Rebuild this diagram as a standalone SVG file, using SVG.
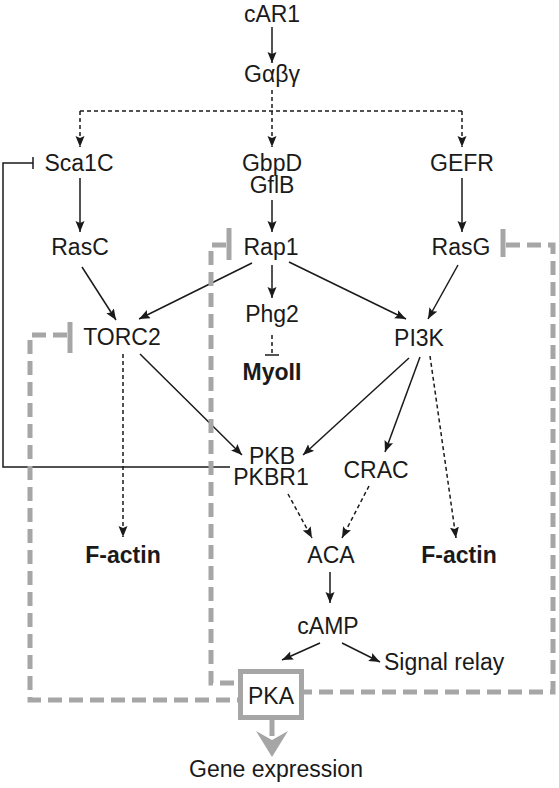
<svg xmlns="http://www.w3.org/2000/svg" width="559" height="788" viewBox="0 0 559 788">
<defs>
<style>
text{font-family:"Liberation Sans",Arial,sans-serif;font-size:23px;fill:#1a1a1a;text-anchor:middle}
.b{font-weight:bold}
.s{stroke:#1a1a1a;stroke-width:1.5;fill:none}
.d{stroke:#1a1a1a;stroke-width:1.5;fill:none;stroke-dasharray:4 3}
.g{stroke:#a6a6a6;stroke-width:5;fill:none;stroke-dasharray:14 7}
.gb{stroke:#a6a6a6;stroke-width:5;fill:none}
</style>
<marker id="ah" markerUnits="userSpaceOnUse" markerWidth="12" markerHeight="10" refX="11" refY="4.5" orient="auto">
<path d="M0,0 L11,4.5 L0,9 L2,4.5 z" fill="#1a1a1a"/>
</marker>
</defs>
<rect width="559" height="788" fill="#ffffff"/>

<g id="connectors">
<line class="s" x1="272" y1="27" x2="272" y2="63" marker-end="url(#ah)"/>
<line class="d" x1="272" y1="90" x2="272" y2="111"/>
<line class="d" x1="80" y1="111" x2="462" y2="111"/>
<line class="d" x1="80" y1="111" x2="80" y2="147" marker-end="url(#ah)"/>
<line class="d" x1="272" y1="111" x2="272" y2="147" marker-end="url(#ah)"/>
<line class="d" x1="462" y1="111" x2="462" y2="147" marker-end="url(#ah)"/>
<line class="s" x1="80" y1="178" x2="80" y2="232" marker-end="url(#ah)"/>
<line class="s" x1="272" y1="200" x2="272" y2="232" marker-end="url(#ah)"/>
<line class="s" x1="462" y1="178" x2="462" y2="232" marker-end="url(#ah)"/>
<line class="s" x1="82" y1="267" x2="116" y2="320" marker-end="url(#ah)"/>
<line class="s" x1="252" y1="263" x2="139" y2="319" marker-end="url(#ah)"/>
<line class="s" x1="272" y1="265" x2="272" y2="298" marker-end="url(#ah)"/>
<line class="s" x1="289" y1="262" x2="406" y2="319" marker-end="url(#ah)"/>
<line class="s" x1="458" y1="265" x2="428" y2="319" marker-end="url(#ah)"/>
<line class="d" x1="272" y1="335" x2="272" y2="355"/>
<line class="s" x1="265" y1="355" x2="279" y2="355"/>
<line class="d" x1="123" y1="354" x2="123" y2="537" marker-end="url(#ah)"/>
<line class="s" x1="140" y1="354" x2="242" y2="455" marker-end="url(#ah)"/>
<line class="s" x1="409" y1="358" x2="303" y2="455" marker-end="url(#ah)"/>
<line class="s" x1="420" y1="357" x2="385" y2="452" marker-end="url(#ah)"/>
<line class="d" x1="430" y1="356" x2="456" y2="538" marker-end="url(#ah)"/>
<line class="d" x1="288" y1="494" x2="312" y2="538" marker-end="url(#ah)"/>
<line class="d" x1="369" y1="486" x2="342" y2="538" marker-end="url(#ah)"/>
<line class="s" x1="330" y1="572" x2="330" y2="603" marker-end="url(#ah)"/>
<line class="s" x1="320" y1="643" x2="282" y2="660" marker-end="url(#ah)"/>
<line class="s" x1="342" y1="643" x2="380" y2="662" marker-end="url(#ah)"/>
<polyline class="s" points="230,467 3,467 3,163 33,163"/>
<line class="s" x1="33" y1="157" x2="33" y2="169"/>
<path class="g" d="M226,245 H211 V683 H238"/>
<line class="gb" x1="229" y1="228" x2="229" y2="260"/>
<path class="g" d="M506,245 H553 V692 H304"/>
<line class="gb" x1="503" y1="229" x2="503" y2="257"/>
<path class="g" d="M67,335 H30 V700 H238"/>
<line class="gb" x1="70" y1="322" x2="70" y2="353"/>
<line class="gb" x1="272" y1="720" x2="272" y2="736"/>
<polygon points="256,731 272,740 288,731 272,757" fill="#a6a6a6"/>
</g>

<g id="cAR1"><text x="272" y="22">cAR1</text></g>
<g id="Gabg"><text x="272" y="82">Gαβγ</text></g>
<g id="Sca1C"><text x="79" y="171">Sca1C</text></g>
<g id="GbpD"><text x="272" y="171">GbpD</text><text x="272" y="193">GflB</text></g>
<g id="GEFR"><text x="462" y="171">GEFR</text></g>
<g id="RasC"><text x="80" y="255">RasC</text></g>
<g id="Rap1"><text x="271" y="255">Rap1</text></g>
<g id="RasG"><text x="461" y="255">RasG</text></g>
<g id="TORC2"><text x="122" y="345">TORC2</text></g>
<g id="Phg2"><text x="272" y="322">Phg2</text></g>
<g id="PI3K"><text x="419" y="346">PI3K</text></g>
<g id="MyoII"><text class="b" x="272" y="380">MyoII</text></g>
<g id="PKB"><text x="272" y="464">PKB</text><text x="271" y="485">PKBR1</text></g>
<g id="CRAC"><text x="376" y="478">CRAC</text></g>
<g id="Factin1"><text class="b" x="123" y="563">F-actin</text></g>
<g id="ACA"><text x="331" y="563">ACA</text></g>
<g id="Factin2"><text class="b" x="459" y="563">F-actin</text></g>
<g id="cAMP"><text x="328" y="634">cAMP</text></g>
<g id="SignalRelay"><text x="384" y="670" style="text-anchor:start">Signal relay</text></g>
<g id="PKA"><rect x="240.5" y="671.5" width="61" height="46" fill="#ffffff" stroke="#a6a6a6" stroke-width="5"/><text x="271" y="704">PKA</text></g>
<g id="GeneExpression"><text x="276" y="777">Gene expression</text></g>
</svg>
